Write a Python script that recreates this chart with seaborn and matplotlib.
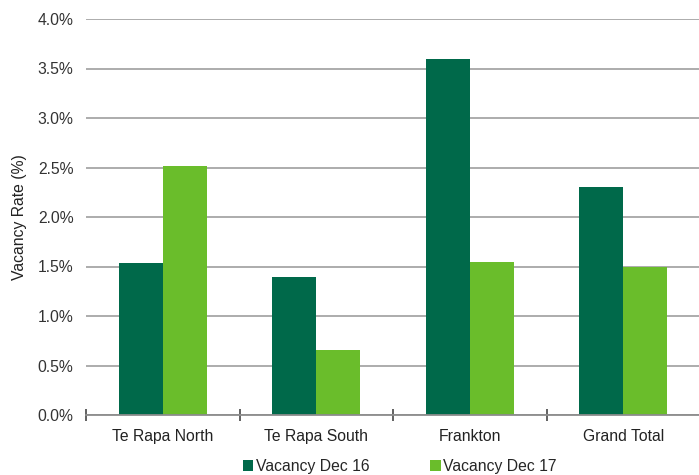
import pandas as pd
import seaborn as sns
import matplotlib.pyplot as plt
from matplotlib.ticker import FixedLocator, FuncFormatter

# datos
categorias = ["Te Rapa North", "Te Rapa South", "Frankton", "Grand Total"]
vacancy_dec16 = [1.54, 1.39, 3.60, 2.30]
vacancy_dec17 = [2.52, 0.66, 1.55, 1.50]
series = ["Vacancy Dec 16", "Vacancy Dec 17"]
colores = ["#00694A", "#6ABD2B"]

df = pd.DataFrame({
    "categoria": categorias * 2,
    "valor": vacancy_dec16 + vacancy_dec17,
    "serie": [series[0]] * 4 + [series[1]] * 4,
})

sns.set_style("white")
plt.rcParams["font.family"] = ["Liberation Sans", "DejaVu Sans"]

fig = plt.figure(figsize=(6.99, 4.75), dpi=100)
ax = fig.add_axes([86 / 699, 60 / 475, 614 / 699, 396 / 475])

sns.barplot(data=df, x="categoria", y="valor", hue="serie",
            palette=colores, width=0.575, saturation=1, linewidth=0, ax=ax)

ax.set_ylim(0, 4.0)
ax.set_xlim(-0.5, 3.5)
ax.set_yticks([i * 0.5 for i in range(9)])
ax.yaxis.set_major_formatter(FuncFormatter(lambda v, p: f"{v:.1f}%"))
ax.grid(axis="y", color="#A6A6A6", linewidth=1.3)
ax.set_axisbelow(True)

for s in ["top", "right", "left"]:
    ax.spines[s].set_visible(False)
ax.spines["bottom"].set_color("#8C8C8C")
ax.spines["bottom"].set_linewidth(1.3)

ax.tick_params(axis="y", length=0, labelsize=11.3, labelcolor="#333333", pad=9)
ax.tick_params(axis="x", which="major", length=0, labelsize=11.3,
               labelcolor="#222222", pad=10)
ax.xaxis.set_minor_locator(FixedLocator([-0.5, 0.5, 1.5, 2.5, 3.5]))
ax.tick_params(axis="x", which="minor", bottom=True, direction="inout",
               length=9, width=1.3, color="#555555")

ax.set_xlabel("")
ax.set_ylabel("Vacancy Rate (%)", fontsize=11.3, color="#222222", labelpad=8)

ax.legend(loc="center", bbox_to_anchor=(0.511, -0.13), ncol=2,
          frameon=False, fontsize=11.3, handlelength=0.65, handleheight=0.65,
          handletextpad=0.15, columnspacing=3.9)

fig.savefig("out.png", dpi=100)
